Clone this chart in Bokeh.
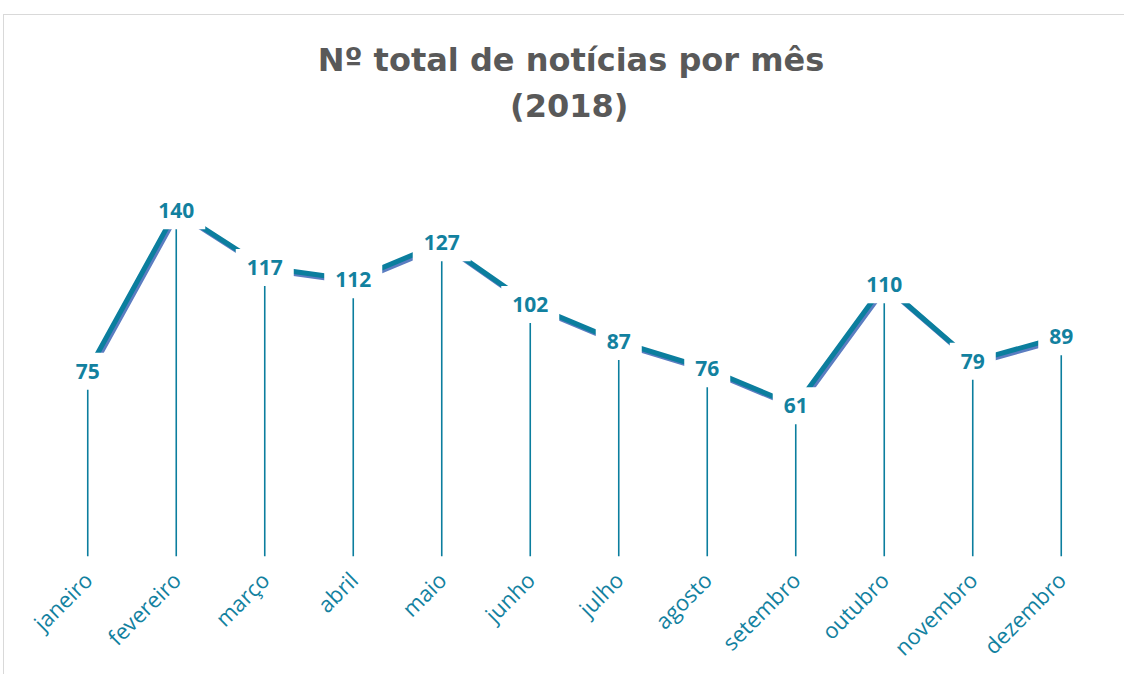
import math
from bokeh.plotting import figure
from bokeh.models import ColumnDataSource, FactorRange, Range1d, Label
from bokeh.transform import dodge
from bokeh.core.properties import value
from bokeh.embed import file_html
from bokeh.resources import INLINE

months = ["janeiro", "fevereiro", "março", "abril", "maio", "junho",
          "julho", "agosto", "setembro", "outubro", "novembro", "dezembro"]
counts = [75, 140, 117, 112, 127, 102, 87, 76, 61, 110, 79, 89]
title_line1 = "Nº total de notícias por mês"
title_line2 = "(2018)"

TEAL = "#0B7E9E"
SHADOW = "#5B7DC1"
TEXT_TEAL = "#12819F"

src = ColumnDataSource(dict(
    m=months,
    v=counts,
    zero=[0] * len(counts),
    vs=[c - 0.9 for c in counts],
    lab=[str(c) for c in counts],
))

p = figure(x_range=FactorRange(*months, range_padding=0),
           y_range=Range1d(0, 219),
           frame_width=1062, frame_height=541,
           output_backend="svg", toolbar_location=None,
           y_axis_location=None, title=None,
           min_border_left=39, min_border_right=19,
           min_border_top=0, min_border_bottom=100)
p.styles = {"margin-left": "3px", "margin-top": "14px",
            "border-top": "1px solid #D9D9D9",
            "border-left": "1px solid #D9D9D9"}
p.outline_line_color = None
p.xgrid.grid_line_color = None
p.ygrid.grid_line_color = None
p.background_fill_color = "white"
p.border_fill_color = "white"

xa = p.xaxis[0]
xa.axis_line_color = None
xa.major_tick_line_color = None
xa.minor_tick_line_color = None
xa.major_label_orientation = math.pi / 4
xa.major_label_standoff = 13
xa.major_label_text_font = "Open Sans"
xa.major_label_text_font_size = "22px"
xa.major_label_text_color = TEXT_TEAL

# drop lines
p.segment(x0="m", y0="zero", x1="m", y1="v", source=src,
          line_color=TEAL, line_width=1.6)

# shadow + main line
p.line(x=dodge("m", 0.02, range=p.x_range), y="vs", source=src,
       line_color=SHADOW, line_width=5)
p.line(x="m", y="v", source=src, line_color=TEAL, line_width=5)

# data labels with white box
p.text(x="m", y="v", text="lab", source=src,
       text_font=value("Open Sans"), text_font_style="bold",
       text_font_size="21px", text_color=TEXT_TEAL,
       text_align="center", text_baseline="middle",
       background_fill_color="white", padding=11)

p.add_layout(Label(x=5.96, y=200.8, text=title_line1,
                   text_font="DejaVu Sans", text_font_style="bold",
                   text_font_size="32px", text_color="#595959",
                   text_align="center", text_baseline="middle"))
p.add_layout(Label(x=5.94, y=182.5, text=title_line2,
                   text_font="DejaVu Sans", text_font_style="bold",
                   text_font_size="32px", text_color="#595959",
                   text_align="center", text_baseline="middle"))

open("out.html", "w").write(file_html(p, INLINE))
